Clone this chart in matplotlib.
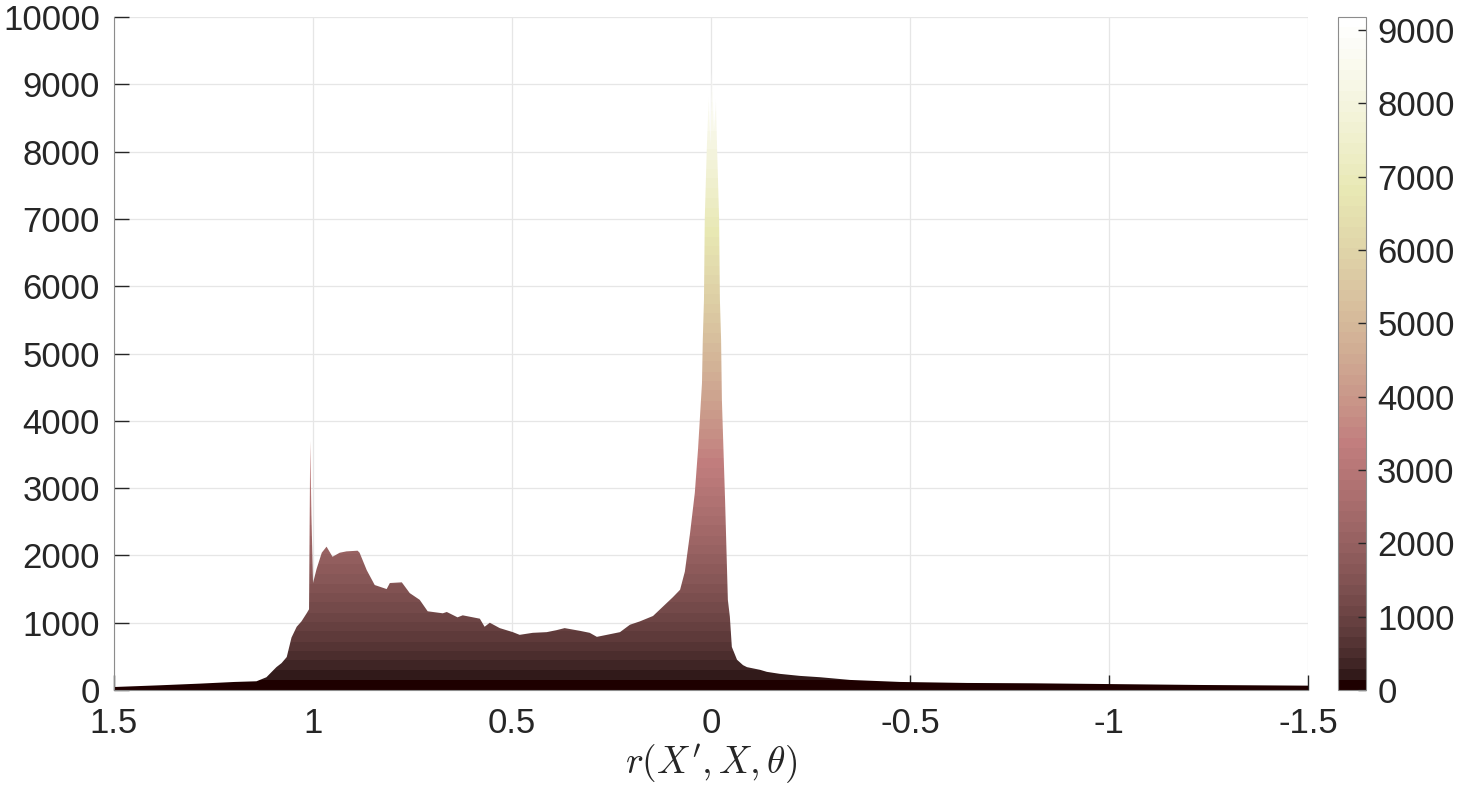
import numpy as np
import matplotlib.pyplot as plt
from matplotlib.patches import Polygon

plt.rcParams['font.family'] = ['Liberation Sans', 'DejaVu Sans']
plt.rcParams['mathtext.fontset'] = 'cm'
plt.rcParams['axes.unicode_minus'] = False

# profile of the histogram surface
r_vals = [1.499, 1.386, 1.285, 1.197, 1.142, 1.117, 1.092, 1.079, 1.066, 1.054,
          1.041, 1.029, 1.016, 1.010, 1.007, 1.004, 1.000, 0.991, 0.978, 0.966,
          0.951, 0.933, 0.916, 0.888, 0.883, 0.865, 0.845, 0.815, 0.807, 0.777,
          0.757, 0.732, 0.712, 0.674, 0.664, 0.637, 0.624, 0.581, 0.569, 0.556,
          0.531, 0.498, 0.481, 0.448, 0.413, 0.388, 0.368, 0.330, 0.305, 0.287,
          0.262, 0.229, 0.204, 0.179, 0.146, 0.121, 0.096, 0.078, 0.066, 0.053,
          0.041, 0.033, 0.023, 0.021, 0.018, 0.016, 0.011, 0.006, 0.002, -0.002,
          -0.007, -0.012, -0.015, -0.020, -0.022, -0.025, -0.027, -0.035, -0.042, -0.047,
          -0.052, -0.065, -0.080, -0.090, -0.123, -0.140, -0.173, -0.223, -0.274, -0.349,
          -0.475, -0.643, -0.809, -0.977, -1.229, -1.500]
counts = [45, 70, 95, 120, 130, 190, 340, 400, 490, 780,
          940, 1020, 1140, 1200, 3700, 2600, 1590, 1800, 2040, 2130,
          1980, 2040, 2060, 2070, 2040, 1780, 1560, 1500, 1590, 1600,
          1440, 1340, 1170, 1140, 1160, 1080, 1110, 1060, 940, 1000,
          920, 860, 820, 850, 860, 890, 920, 880, 850, 790,
          820, 860, 970, 1020, 1100, 1240, 1380, 1490, 1760, 2330,
          2930, 3570, 4560, 5200, 5800, 7000, 8030, 8810, 8100, 9180,
          8300, 8770, 8030, 7000, 5800, 5200, 4310, 2820, 1340, 1090,
          640, 450, 370, 340, 300, 270, 240, 210, 190, 150,
          120, 105, 100, 90, 75, 65]

xticks = [1.5, 1, 0.5, 0, -0.5, -1, -1.5]
xtick_labels = ['1.5', '1', '0.5', '0', '-0.5', '-1', '-1.5']
yticks = list(range(0, 10001, 1000))
cticks = list(range(0, 9001, 1000))

fig = plt.figure(figsize=(14.61, 7.86), dpi=100)
ax = fig.add_axes([0.078, 0.1221, 0.8175, 0.8563])

# vertical colour gradient (64-level pink map), clipped to the profile
cmap = plt.get_cmap('pink', 64)
vmax = max(counts)
grad = np.linspace(0, vmax, 600).reshape(-1, 1)
im = ax.imshow(grad, extent=[1.5, -1.5, 0, vmax], origin='lower', aspect='auto',
               cmap=cmap, vmin=0, vmax=vmax, zorder=2, interpolation='nearest')

verts = [(r_vals[0], 0)] + list(zip(r_vals, counts)) + [(r_vals[-1], 0)]
shape = Polygon(verts, closed=True, facecolor='none', edgecolor='none',
                transform=ax.transData)
ax.add_patch(shape)
im.set_clip_path(shape)

ax.set_xlim(1.5, -1.5)
ax.set_ylim(0, 10000)
ax.set_xticks(xticks)
ax.set_xticklabels(xtick_labels)
ax.set_yticks(yticks)
ax.grid(True, color='0.9', linewidth=0.9)
ax.set_axisbelow(True)
for s in ['top', 'right']:
    ax.spines[s].set_visible(False)
for s in ['left', 'bottom']:
    ax.spines[s].set_color('0.55')
ax.tick_params(direction='in', length=11, width=1, color='0.15',
               labelsize=25, labelcolor='0.15')
ax.tick_params(axis='y', pad=10)
ax.tick_params(axis='x', pad=12)
ax.set_xlabel(r"$r(X', X, \theta)$", fontsize=27, color='0.15', labelpad=2)

cax = fig.add_axes([0.9158, 0.1221, 0.0192, 0.8563])
cb = fig.colorbar(im, cax=cax)
cb.set_ticks(cticks)
cb.outline.set_edgecolor('0.55')
cax.tick_params(direction='in', length=6, width=1, color='0.15',
                labelsize=25, labelcolor='0.15', pad=8)

fig.savefig('out.png', dpi=100)
